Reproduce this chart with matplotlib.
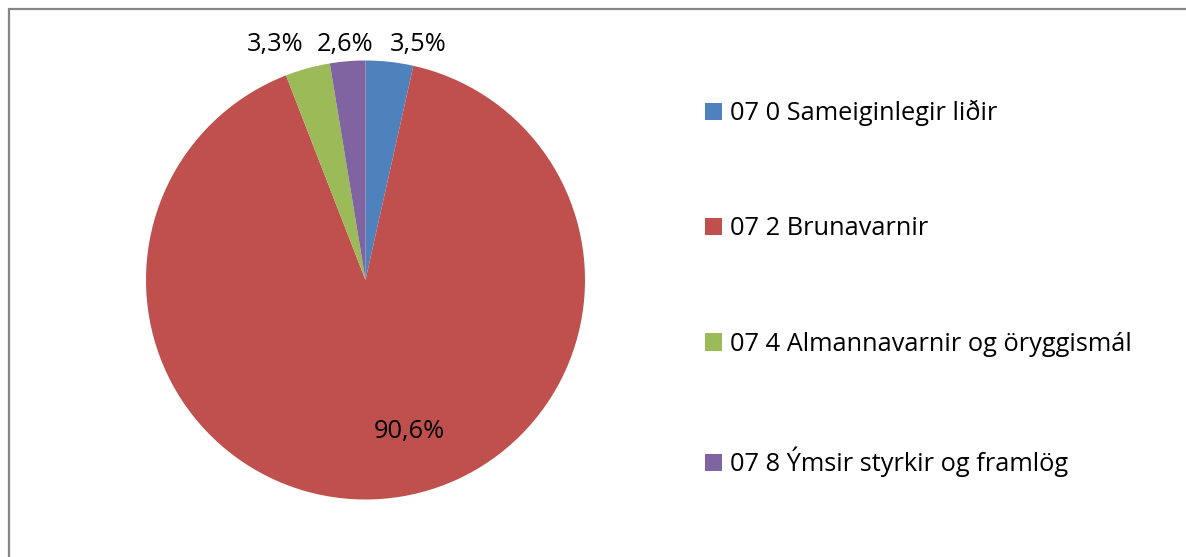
import matplotlib
matplotlib.use("Agg")
import matplotlib.pyplot as plt
from matplotlib.patches import Rectangle

categories = ["07 0 Sameiginlegir liðir", "07 2 Brunavarnir",
              "07 4 Almannavarnir og öryggismál", "07 8 Ýmsir styrkir og framlög"]
values = [3.5, 90.6, 3.3, 2.6]
value_labels = ["3,5%", "90,6%", "3,3%", "2,6%"]
colors = ["#4F81BD", "#C0504D", "#9BBB59", "#8064A2"]

plt.rcParams['font.family'] = ['Open Sans', 'DejaVu Sans']

W, H = 1186, 557
fig = plt.figure(figsize=(W / 100, H / 100), dpi=100)

cx, cy, r = 365.5, 280, 219.5
ax = fig.add_axes([(cx - r) / W, (H - cy - r) / H, 2 * r / W, 2 * r / H])
wedges, _ = ax.pie(values, colors=colors, startangle=90, counterclock=False,
                   radius=1, center=(0, 0))
ax.set_xlim(-1, 1)
ax.set_ylim(-1, 1)
ax.set_aspect('equal')
ax.axis('off')

FS = 18.3
# label positions (data coords, radius=1)
label_pos = [(0.24, 1.075), (0.20, -0.69), (-0.41, 1.075), (-0.093, 1.075)]
for (x, y), t in zip(label_pos, value_labels):
    ax.text(x, y, t, ha='center', va='center', fontsize=FS, color='black', clip_on=False)

leg = fig.legend(wedges, categories, loc='upper left',
                 bbox_to_anchor=(705 / W, 1 - 100 / H),
                 frameon=False, fontsize=FS, handlelength=0.68, handleheight=0.68,
                 handletextpad=0.3, labelspacing=3.55, borderpad=0, borderaxespad=0)

border = Rectangle((8.5 / W, -0.1), 1.2, 1 - 9 / H + 0.1, transform=fig.transFigure,
                   fill=False, edgecolor='#868686', linewidth=1.6)
fig.patches.append(border)

fig.savefig("out.png", dpi=100, facecolor='white')
